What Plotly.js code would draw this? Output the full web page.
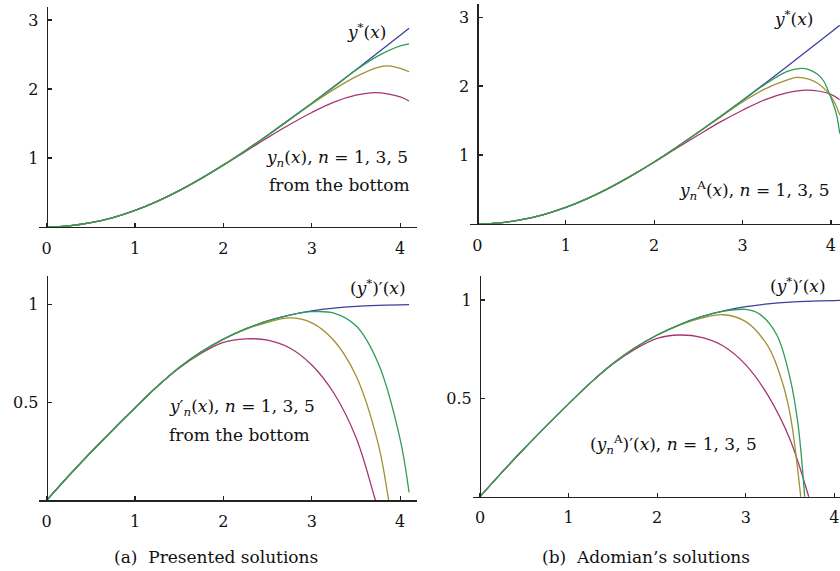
<!DOCTYPE html>
<html>
<head>
<meta charset="utf-8">
<script src="https://cdn.plot.ly/plotly-3.0.1.min.js"></script>
<style>
  html, body { margin: 0; padding: 0; background: #fff; }
  #chart { width: 840px; height: 571px; }
</style>
</head>
<body>
<div id="chart"></div>
<script>
// ---- values ----
// top row: y(x), bottom row: y'(x)
const xExact = [0, 0.25, 0.5, 0.75, 1, 1.25, 1.5, 1.75, 2, 2.25, 2.5, 2.75, 3, 3.25, 3.5, 3.75, 4, 4.1];
const yExact = [0, 0.016, 0.062, 0.137, 0.241, 0.372, 0.528, 0.705, 0.90, 1.11, 1.33, 1.56, 1.795, 2.035, 2.28, 2.53, 2.78, 2.88];
const dExact = [0, 0.125, 0.245, 0.36, 0.472, 0.58, 0.677, 0.757, 0.822, 0.874, 0.915, 0.945, 0.966, 0.98, 0.989, 0.994, 0.997, 0.998];

// (a) presented solutions, y_n
const xPres1 = [0, 0.25, 0.5, 0.75, 1, 1.25, 1.5, 1.75, 2, 2.25, 2.5, 2.75, 3, 3.25, 3.5, 3.72, 4, 4.1];
const yPres1 = [0, 0.016, 0.062, 0.137, 0.241, 0.372, 0.528, 0.705, 0.895, 1.095, 1.295, 1.485, 1.66, 1.81, 1.91, 1.948, 1.885, 1.826];
const xPres3 = [0, 0.25, 0.5, 0.75, 1, 1.25, 1.5, 1.75, 2, 2.25, 2.5, 2.75, 3, 3.25, 3.5, 3.75, 3.87, 4, 4.1];
const yPres3 = [0, 0.016, 0.062, 0.137, 0.241, 0.372, 0.528, 0.705, 0.90, 1.11, 1.33, 1.56, 1.785, 1.995, 2.18, 2.315, 2.335, 2.30, 2.25];
const xPres5 = [0, 0.25, 0.5, 0.75, 1, 1.25, 1.5, 1.75, 2, 2.25, 2.5, 2.75, 3, 3.25, 3.5, 3.75, 4, 4.1];
const yPres5 = [0, 0.016, 0.062, 0.137, 0.241, 0.372, 0.528, 0.705, 0.90, 1.11, 1.33, 1.56, 1.795, 2.03, 2.275, 2.48, 2.625, 2.655];

// (b) Adomian's solutions, y_n^A
const xAdo1 = [0, 0.25, 0.5, 0.75, 1, 1.25, 1.5, 1.75, 2, 2.25, 2.5, 2.75, 3, 3.25, 3.5, 3.72, 4, 4.1];
const yAdo1 = [0, 0.016, 0.062, 0.137, 0.241, 0.372, 0.528, 0.705, 0.895, 1.095, 1.29, 1.48, 1.65, 1.80, 1.90, 1.94, 1.88, 1.80];
const xAdo3 = [0, 0.25, 0.5, 0.75, 1, 1.25, 1.5, 1.75, 2, 2.25, 2.5, 2.75, 3, 3.25, 3.5, 3.62, 3.75, 3.85, 3.95, 4, 4.05, 4.1];
const yAdo3 = [0, 0.016, 0.062, 0.137, 0.241, 0.372, 0.528, 0.705, 0.90, 1.11, 1.33, 1.55, 1.77, 1.955, 2.085, 2.126, 2.10, 2.04, 1.93, 1.85, 1.74, 1.58];
const xAdo5 = [0, 0.25, 0.5, 0.75, 1, 1.25, 1.5, 1.75, 2, 2.25, 2.5, 2.75, 3, 3.25, 3.5, 3.66, 3.75, 3.85, 3.92, 3.97, 4.01, 4.065, 4.1];
const yAdo5 = [0, 0.016, 0.062, 0.137, 0.241, 0.372, 0.528, 0.705, 0.90, 1.11, 1.33, 1.56, 1.79, 2.02, 2.21, 2.256, 2.24, 2.17, 2.07, 1.93, 1.80, 1.58, 1.31];

// derivatives, presented
const xPresD1 = [0, 0.25, 0.5, 0.75, 1, 1.25, 1.5, 1.75, 2, 2.25, 2.5, 2.75, 3, 3.25, 3.5, 3.72, 3.85];
const dPres1 = [0, 0.125, 0.245, 0.36, 0.472, 0.58, 0.675, 0.75, 0.805, 0.823, 0.817, 0.777, 0.69, 0.546, 0.32, 0, -0.2];
const xPresD3 = [0, 0.25, 0.5, 0.75, 1, 1.25, 1.5, 1.75, 2, 2.25, 2.5, 2.75, 3, 3.25, 3.5, 3.75, 3.87, 3.95];
const dPres3 = [0, 0.125, 0.245, 0.36, 0.472, 0.58, 0.677, 0.757, 0.822, 0.872, 0.908, 0.93, 0.905, 0.815, 0.635, 0.29, 0, -0.22];
const xPresD5 = [0, 0.25, 0.5, 0.75, 1, 1.25, 1.5, 1.75, 2, 2.25, 2.5, 2.75, 3, 3.25, 3.5, 3.75, 4, 4.1];
const dPres5 = [0, 0.125, 0.245, 0.36, 0.472, 0.58, 0.677, 0.757, 0.822, 0.874, 0.915, 0.945, 0.962, 0.955, 0.89, 0.70, 0.31, 0.04];

// derivatives, Adomian
const xAdoD1 = [0, 0.25, 0.5, 0.75, 1, 1.25, 1.5, 1.75, 2, 2.25, 2.5, 2.75, 3, 3.25, 3.5, 3.71, 3.8];
const dAdo1 = [0, 0.125, 0.245, 0.36, 0.472, 0.58, 0.675, 0.75, 0.805, 0.822, 0.81, 0.765, 0.67, 0.515, 0.29, 0, -0.15];
const xAdoD3 = [0, 0.25, 0.5, 0.75, 1, 1.25, 1.5, 1.75, 2, 2.25, 2.5, 2.75, 3, 3.25, 3.4, 3.5, 3.62, 3.68];
const dAdo3 = [0, 0.125, 0.245, 0.36, 0.472, 0.58, 0.677, 0.757, 0.822, 0.872, 0.908, 0.925, 0.89, 0.765, 0.60, 0.42, 0, -0.3];
const xAdoD5 = [0, 0.25, 0.5, 0.75, 1, 1.25, 1.5, 1.75, 2, 2.25, 2.5, 2.75, 3, 3.16, 3.35, 3.5, 3.59, 3.665, 3.72];
const dAdo5 = [0, 0.125, 0.245, 0.36, 0.472, 0.58, 0.677, 0.757, 0.822, 0.874, 0.915, 0.943, 0.952, 0.927, 0.822, 0.602, 0.365, 0, -0.35];

const xTicks = [0, 1, 2, 3, 4];
const yTicksTop = [1, 2, 3];
const yTicksBottom = [0.5, 1];

const BLUE = '#3c3f9e';
const GREEN = '#2f9c58';
const OLIVE = '#a28f35';
const MAGENTA = '#a33774';
const FONT = 'DejaVu Serif, serif';
const AXIS = '#222';

function line(x, y, color, xa, ya) {
    return {
        x, y,
        xaxis: xa, yaxis: ya,
        mode: 'lines',
        type: 'scatter',
        line: { color, width: 1.3, shape: 'spline', smoothing: 1 },
        hoverinfo: 'skip',
    };
}

function xAxis(domain, range, anchor) {
    return {
        domain, range, anchor,
        showline: true, linecolor: AXIS, linewidth: 1.3,
        ticks: 'inside', ticklen: 4, tickwidth: 1.2, tickcolor: AXIS,
        tickvals: xTicks,
        ticklabelstandoff: 6,
        showgrid: false, zeroline: false,
        tickfont: { family: FONT, size: 16, color: '#111' },
        fixedrange: true,
    };
}

function yAxis(domain, range, position, tickvals) {
    return {
        domain, range, position,
        anchor: 'free',
        showline: true, linecolor: AXIS, linewidth: 1.3,
        ticks: 'inside', ticklen: 4, tickwidth: 1.2, tickcolor: AXIS,
        tickvals,
        ticklabelstandoff: 5,
        showgrid: false, zeroline: false,
        tickfont: { family: FONT, size: 16, color: '#111' },
        fixedrange: true,
    };
}

function note(text, x, y, xref, yref, xanchor) {
    return {
        text, x, y, xref, yref, xanchor,
        yanchor: 'middle',
        showarrow: false,
        font: { family: FONT, size: 17, color: '#111' },
    };
}

const data = [
    line(xExact, yExact, BLUE, 'x', 'y'),
    line(xPres1, yPres1, MAGENTA, 'x', 'y'),
    line(xPres3, yPres3, OLIVE, 'x', 'y'),
    line(xPres5, yPres5, GREEN, 'x', 'y'),

    line(xExact, yExact, BLUE, 'x2', 'y2'),
    line(xAdo1, yAdo1, MAGENTA, 'x2', 'y2'),
    line(xAdo3, yAdo3, OLIVE, 'x2', 'y2'),
    line(xAdo5, yAdo5, GREEN, 'x2', 'y2'),

    line(xExact, dExact, BLUE, 'x3', 'y3'),
    line(xPresD1, dPres1, MAGENTA, 'x3', 'y3'),
    line(xPresD3, dPres3, OLIVE, 'x3', 'y3'),
    line(xPresD5, dPres5, GREEN, 'x3', 'y3'),

    line(xExact, dExact, BLUE, 'x4', 'y4'),
    line(xAdoD1, dAdo1, MAGENTA, 'x4', 'y4'),
    line(xAdoD3, dAdo3, OLIVE, 'x4', 'y4'),
    line(xAdoD5, dAdo5, GREEN, 'x4', 'y4'),
];

const ystar = '<i>y</i><sup>*</sup>(<i>x</i>)';
const dystar = '(<i>y</i><sup>*</sup>)′(<i>x</i>)';
const nList = ', <i>n</i> = 1, 3, 5';

const layout = {
    width: 840, height: 571,
    margin: { l: 0, r: 0, t: 0, b: 0 },
    paper_bgcolor: '#fff', plot_bgcolor: '#fff',
    showlegend: false,
    hovermode: false,

    xaxis: xAxis([39 / 840, 417 / 840], [-0.087, 4.19], 'y'),
    yaxis: yAxis([1 - 227 / 571, 1 - 6.7 / 571], [0, 3.193], 46.7 / 840, yTicksTop),
    xaxis2: xAxis([470 / 840, 1], [-0.083, 4.103], 'y2'),
    yaxis2: yAxis([1 - 224 / 571, 1 - 4 / 571], [0, 3.19], 477.3 / 840, yTicksTop),
    xaxis3: xAxis([39 / 840, 417 / 840], [-0.087, 4.19], 'y3'),
    yaxis3: yAxis([1 - 500.3 / 571, 1 - 276 / 571], [0, 1.144], 46.7 / 840, yTicksBottom),
    xaxis4: xAxis([472.7 / 840, 1], [-0.082, 4.063], 'y4'),
    yaxis4: yAxis([1 - 496.7 / 571, 1 - 276 / 571], [0, 1.122], 480 / 840, yTicksBottom),

    annotations: [
        note(ystar, 3.865, 2.84, 'x', 'y', 'right'),
        note('<i>y</i><sub><i>n</i></sub>(<i>x</i>)' + nList, 4.115, 1.0, 'x', 'y', 'right'),
        note('from the bottom', 4.137, 0.609, 'x', 'y', 'right'),

        note(ystar, 3.82, 2.986, 'x2', 'y2', 'right'),
        note('<i>y</i><sub><i>n</i></sub><sup>A</sup>(<i>x</i>)' + nList, 4.013, 0.49, 'x2', 'y2', 'right'),

        note(dystar, 4.09, 1.088, 'x3', 'y3', 'right'),
        note('<i>y</i>′<sub><i>n</i></sub>(<i>x</i>)' + nList, 1.363, 0.471, 'x3', 'y3', 'left'),
        note('from the bottom', 1.363, 0.333, 'x3', 'y3', 'left'),

        note(dystar, 3.25, 1.076, 'x4', 'y4', 'left'),
        note('(<i>y</i><sub><i>n</i></sub><sup>A</sup>)′(<i>x</i>)' + nList, 1.219, 0.263, 'x4', 'y4', 'left'),

        note('(a)  Presented solutions', 216 / 840, 1 - 557 / 571, 'paper', 'paper', 'center'),
        note('(b)  Adomian’s solutions', 646 / 840, 1 - 557 / 571, 'paper', 'paper', 'center'),
    ],
};

Plotly.newPlot('chart', data, layout, { displayModeBar: false, staticPlot: true });
</script>
</body>
</html>
